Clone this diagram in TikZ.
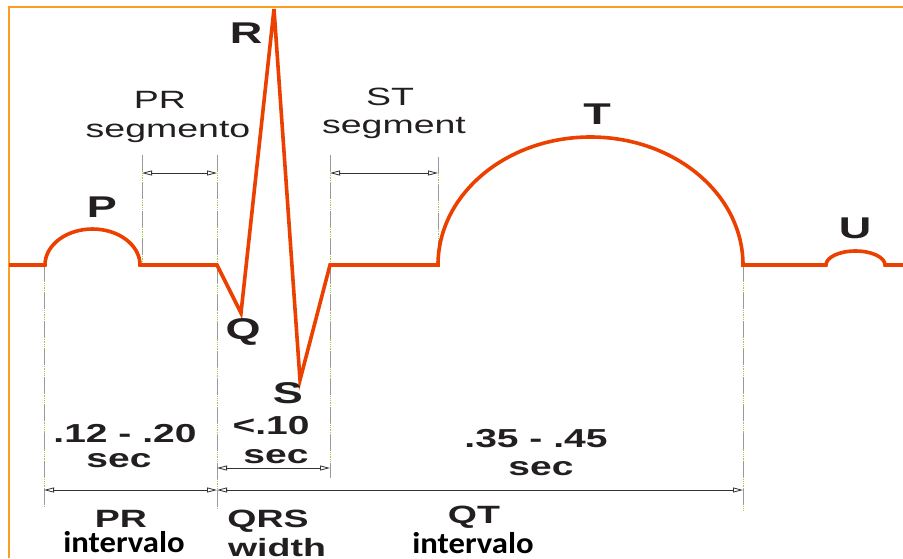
\documentclass[tikz,border=0pt]{standalone}
\usepackage{fontspec}
\setmainfont{Liberation Sans}
\newfontfamily\widefont[FakeStretch=1.5]{Liberation Sans}
\newfontfamily\carl[FakeStretch=1.09]{Carlito}
\usetikzlibrary{arrows.meta}
\definecolor{ecg}{RGB}{236,64,0}
\definecolor{frameor}{RGB}{249,160,32}
\definecolor{lbl}{RGB}{35,31,32}
\definecolor{guidegreen}{RGB}{160,200,80}
\tikzset{
  wave/.style={draw=ecg, line width=3.6pt},
  guide/.style={preaction={draw=guidegreen, line width=0.8pt, densely dotted},
                draw=gray!80, line width=0.7pt, dash pattern=on 16pt off 12pt},
  dim/.style={draw=black!80, line width=0.8pt,
              {Triangle[open,length=10pt,width=5pt]}-{Triangle[open,length=10pt,width=5pt]}},
  bigl/.style={anchor=base, inner sep=0pt, text=lbl, font=\widefont\bfseries\fontsize{30}{30}\selectfont},
  num/.style={anchor=base, inner sep=0pt, text=lbl, font=\widefont\bfseries\fontsize{26}{26}\selectfont},
  lab/.style={anchor=base, inner sep=0pt, text=lbl, font=\widefont\bfseries\fontsize{25}{25}\selectfont},
  segt/.style={anchor=base, inner sep=0pt, text=lbl, font=\widefont\fontsize{25}{25}\selectfont},
  intv/.style={anchor=base, inner sep=0pt, text=black, font=\carl\bfseries\fontsize{30}{30}\selectfont},
}
\begin{document}
\begin{tikzpicture}[x=1pt,y=-1pt]
\fill[white] (0,0) rectangle (903,558);
\useasboundingbox (0,0) rectangle (903,558);
% frame
\draw[frameor, line width=2.5pt] (9,558) -- (9,7) -- (903,7);
% guide coordinates
\coordinate (gA1) at (44,265);  \coordinate (gA2) at (44,508);
\coordinate (gB1) at (142,155); \coordinate (gB2) at (142,265);
\coordinate (gC1) at (217,155); \coordinate (gC2) at (217,508);
\coordinate (gD1) at (330,155); \coordinate (gD2) at (330,478);
\coordinate (gE1) at (438,157); \coordinate (gE2) at (438,265);
\coordinate (gF1) at (743,265); \coordinate (gF2) at (743,510);
\draw[guide] (gA1) -- (gA2);
\draw[guide] (gB1) -- (gB2);
\draw[guide] (gC1) -- (gC2);
\draw[guide] (gD1) -- (gD2);
\draw[guide] (gE1) -- (gE2);
\draw[guide] (gF1) -- (gF2);
% dimension arrows
\coordinate (aPRs1) at (142,173); \coordinate (aPRs2) at (217,173);
\coordinate (aST1) at (330,173);  \coordinate (aST2) at (438,173);
\coordinate (aQRS1) at (217,468); \coordinate (aQRS2) at (330,468);
\coordinate (aPR1) at (44,490);   \coordinate (aPR2) at (217,490);
\coordinate (aQT1) at (217,490);  \coordinate (aQT2) at (743,490);
\draw[dim] (aPRs1) -- (aPRs2);
\draw[dim] (aST1) -- (aST2);
\draw[dim] (aQRS1) -- (aQRS2);
\draw[dim] (aPR1) -- (aPR2);
\draw[dim] (aQT1) -- (aQT2);
% ECG trace
\draw[wave] (9,265) -- (45,265)
  .. controls (45,245.1) and (66.3,229) .. (92.5,229)
  .. controls (118.7,229) and (140,245.1) .. (140,265)
  -- (217,265) -- (241,313) -- (274,9) -- (300,380) -- (330,265) -- (438,265)
  .. controls (438,194.3) and (506.3,137) .. (590.5,137)
  .. controls (674.7,137) and (743,194.3) .. (743,265)
  -- (826,265)
  .. controls (826,257.3) and (839.2,251) .. (855.5,251)
  .. controls (871.8,251) and (885,257.3) .. (885,265)
  -- (903,265);
% wave labels
\node[bigl] (R) at (246,43) {R};
\node[bigl] (T) at (597,124) {T};
\node[bigl] (P) at (102,217) {P};
\node[bigl] (U) at (855,238) {U};
\node[bigl] (Q) at (243,339) {Q};
\node[bigl] (S) at (288,403) {S};
% segment labels
\node[segt] (prs1) at (160,108) {PR};
\node[segt] (prs2) at (168,137) {segmento};
\node[segt] (st1) at (390,105) {ST};
\node[segt] (st2) at (394,133) {segment};
% durations
\node[num] (n1) at (125,442) {.12 - .20};
\node[num] (s1) at (119,467) {sec};
\node[num] (n2) at (271,434) {<.10};
\node[num] (s2) at (276,463) {sec};
\node[num] (n3) at (536,447) {.35 - .45};
\node[num] (s3) at (541,475) {sec};
% interval names
\node[lab] (b1) at (121,527) {PR};
\node[intv] (b2) at (124,552) {intervalo};
\node[lab] (b3) at (268,527) {QRS};
\node[lab] (b4) at (277,556) {width};
\node[lab] (b5) at (474,523) {QT};
\node[intv] (b6) at (473,553) {intervalo};
\end{tikzpicture}
\end{document}
